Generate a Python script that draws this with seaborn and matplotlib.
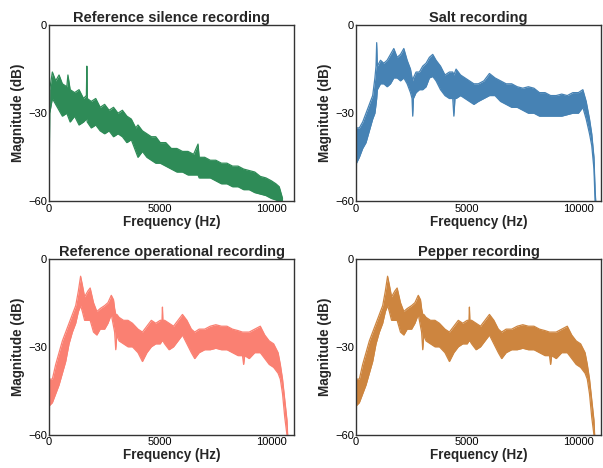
import matplotlib
matplotlib.use("Agg")
import matplotlib.pyplot as plt
import seaborn as sns

# Spectrum envelopes (frequency in Hz, upper / lower edge in dB)
silence_freq = [0, 30, 150, 300, 450, 600, 800, 850, 950, 1150, 1350, 1550, 1680, 1700, 1720,
                1900, 2100, 2300, 2500, 2700, 2900, 3100, 3300, 3500, 3700, 3900, 4000, 4200,
                4400, 4600, 4800, 5000, 5250, 5500, 5750, 6000, 6250, 6500, 6700, 6750, 7000,
                7250, 7500, 7750, 8000, 8250, 8500, 8750, 9000, 9250, 9500, 9750, 10000,
                10200, 10350, 10500]
silence_upper = [-60, -22, -16, -19, -17, -20, -21, -17, -22, -23, -22, -25, -24, -14, -25,
                 -26, -25, -28, -27, -29, -28, -30, -29, -31, -32, -35, -34, -36,
                 -37, -38, -38, -40, -40, -42, -42, -43, -43, -44, -40.5, -45, -45,
                 -46, -46, -47, -47, -48, -48, -49, -49.5, -50, -51.5, -52, -53,
                 -54, -55, -59]
silence_lower = [-60, -30, -25, -27, -29, -31, -30, -31, -33, -31, -34, -33, -32, -32, -33,
                 -35, -34, -36, -37, -36, -38, -37, -38, -40, -39, -43, -45, -43,
                 -45, -46, -47, -47, -48, -49, -50, -50, -51, -51, -51, -52, -52,
                 -52, -53, -54, -54, -55, -55, -56, -56, -57, -57.5, -58, -59,
                 -59.5, -60, -60]

salt_freq = [0, 20, 150, 300, 450, 600, 750, 850, 900, 930,
             960, 1100, 1250, 1400, 1550, 1700, 1850, 2000, 2150, 2300,
             2450, 2520, 2550, 2580, 2700, 2850, 3000, 3150, 3300, 3450,
             3600, 3800, 4000, 4200, 4350, 4400, 4450, 4500, 4700, 4900,
             5100, 5300, 5500, 5750, 6000, 6250, 6500, 6750, 7000, 7250,
             7500, 7750, 8000, 8250, 8500, 8750, 9000, 9250, 9500, 9750,
             10000, 10200, 10350, 10500, 10600, 10700, 10750, 10780]
salt_upper = [-60, -35, -35, -33, -30, -27, -24, -18, -14, -6,
              -14, -12, -13, -12, -10, -8, -11, -10, -8, -12,
              -15, -18, -19, -18, -16, -16, -14, -13, -11, -10,
              -12, -14, -17, -16, -16, -17, -16, -15, -17, -18,
              -19, -20, -20, -19, -16.5, -18, -19, -20, -20, -21,
              -21.5, -21, -21.5, -23, -23, -24, -24, -23.5, -24, -23,
              -23, -22, -26, -32, -37, -45, -56, -60]
salt_lower = [-60, -47, -45, -42, -40, -36, -32, -30, -27, -25,
              -22, -20, -20, -21, -20, -18, -18, -19, -18, -20,
              -23, -25, -31, -25, -23, -22, -22, -21, -18, -17.5,
              -19, -22, -24, -25, -25, -31, -25, -25, -24, -25,
              -26, -27, -26, -25, -24, -24, -26, -27, -28, -28,
              -29, -30, -30, -31, -31, -31, -31, -31, -30.5, -30,
              -30, -28, -32, -37, -41, -49, -60, -60]

operational_freq = [0, 20, 150, 300, 450, 600, 750, 900, 1050, 1200,
                    1320, 1420, 1500, 1600, 1750, 1850, 2000, 2150, 2300, 2500,
                    2650, 2800, 2900, 2950, 3000, 3050, 3150, 3350, 3550, 3750,
                    4000, 4200, 4400, 4600, 4800, 5000, 5080, 5100, 5120, 5200,
                    5400, 5600, 5800, 6000, 6200, 6400, 6550, 6750, 7000, 7250,
                    7500, 7750, 8000, 8250, 8500, 8700, 8750, 8800, 9000, 9250,
                    9500, 9700, 9900, 10100, 10300, 10400, 10500, 10600, 10700, 10730]
operational_upper = [-60, -41, -41, -36, -32, -28, -25, -22, -19, -16,
                     -11, -6, -9, -13, -11, -10, -15, -18, -17, -16,
                     -15, -12.5, -14, -17, -19, -19, -20, -21, -21, -22,
                     -24, -25, -23, -21, -22, -21, -21, -16.5, -21, -21,
                     -22, -23, -21, -19, -21, -24, -25, -24, -24, -23,
                     -22.5, -23, -23, -24, -24.5, -25, -25, -25, -25, -24,
                     -23, -26, -28, -29, -32, -36, -41, -48, -55, -60]
operational_lower = [-60, -50, -49, -46, -43, -39, -35, -29, -25, -22,
                     -18, -16, -18, -21, -21, -21, -25, -26, -24, -24,
                     -22, -19, -23, -25, -31, -26, -28, -29, -30, -30,
                     -32, -35, -32, -30, -29, -29, -28, -28, -28, -29,
                     -31, -30, -28, -26, -29, -32, -34, -32, -31, -31,
                     -30.5, -31, -31, -32, -33, -33, -36, -33, -34, -32,
                     -32, -34, -36, -37, -39, -41, -46, -54, -60, -60]

pepper_freq = [0, 20, 150, 300, 450, 600, 750, 900, 1050, 1200,
               1320, 1420, 1500, 1600, 1750, 1850, 2000, 2150, 2300, 2500,
               2650, 2800, 2900, 2950, 3000, 3050, 3150, 3350, 3550, 3750,
               4000, 4200, 4400, 4600, 4800, 5000, 5080, 5100, 5120, 5200,
               5400, 5600, 5800, 6000, 6200, 6400, 6550, 6750, 7000, 7250,
               7500, 7750, 8000, 8250, 8500, 8700, 8750, 8800, 9000, 9250,
               9500, 9700, 9900, 10100, 10300, 10400, 10500, 10600, 10700, 10730]
pepper_upper = [-60, -41, -41, -36, -32, -28, -25, -22, -19, -16,
                -11, -6, -9, -13, -11, -10, -15, -18, -17, -16,
                -15, -12.5, -14, -17, -19, -19, -20, -21, -21, -22,
                -24, -25, -23, -21, -22, -21, -21, -16.5, -21, -21,
                -22, -23, -21, -19, -21, -24, -25, -24, -24, -23,
                -22.5, -23, -23, -24, -24.5, -25, -25, -25, -25, -24,
                -23, -26, -28, -29, -32, -36, -41, -48, -55, -60]
pepper_lower = [-60, -50, -49, -46, -43, -39, -35, -29, -25, -22,
                -18, -16, -18, -21, -21, -21, -25, -26, -24, -24,
                -22, -19, -23, -25, -31, -26, -28, -29, -30, -30,
                -32, -35, -32, -30, -29, -29, -28, -28, -28, -29,
                -31, -30, -28, -26, -29, -32, -34, -32, -31, -31,
                -30.5, -31, -31, -32, -33, -33, -36, -33, -34, -32,
                -32, -34, -36, -37, -39, -41, -46, -54, -60, -60]

titles = ["Reference silence recording", "Salt recording",
          "Reference operational recording", "Pepper recording"]
colors = ["#2E8B57", "#4682B4", "#FA8072", "#CD853F"]
panels = [(silence_freq, silence_upper, silence_lower),
          (salt_freq, salt_upper, salt_lower),
          (operational_freq, operational_upper, operational_lower),
          (pepper_freq, pepper_upper, pepper_lower)]

sns.set_theme(style="white")
plt.rcParams["font.family"] = ["Liberation Sans", "DejaVu Sans"]
plt.rcParams["axes.linewidth"] = 1.0

fig, axes = plt.subplots(2, 2, figsize=(6.03, 4.68), dpi=100)
fig.subplots_adjust(left=0.0813, right=0.997, top=0.9466, bottom=0.0705,
                    wspace=0.252, hspace=0.324)

for ax, (freq, upper, lower), title, color in zip(axes.flat, panels, titles, colors):
    # dense noisy spectrum drawn as a band between its edges
    ax.fill_between(freq, lower, upper, color=color, linewidth=0)
    sns.lineplot(x=freq, y=upper, ax=ax, color=color, linewidth=0.9)
    sns.lineplot(x=freq, y=lower, ax=ax, color=color, linewidth=0.9)

    ax.set_xlim(0, 11025)
    ax.set_ylim(-60, 0)
    ax.set_xticks([0, 5000, 10000])
    ax.set_yticks([-60, -30, 0])
    ax.tick_params(axis="both", labelsize=8, length=0, pad=1.5, colors="black")
    ax.set_title(title, fontsize=10.5, fontweight="bold", pad=2)
    ax.set_xlabel("Frequency (Hz)", fontsize=9.75, fontweight="bold", labelpad=1)
    ax.set_ylabel("Magnitude (dB)", fontsize=9.75, fontweight="bold", labelpad=2)
    for spine in ax.spines.values():
        spine.set_color("#333333")

fig.savefig("out.png", dpi=100)
